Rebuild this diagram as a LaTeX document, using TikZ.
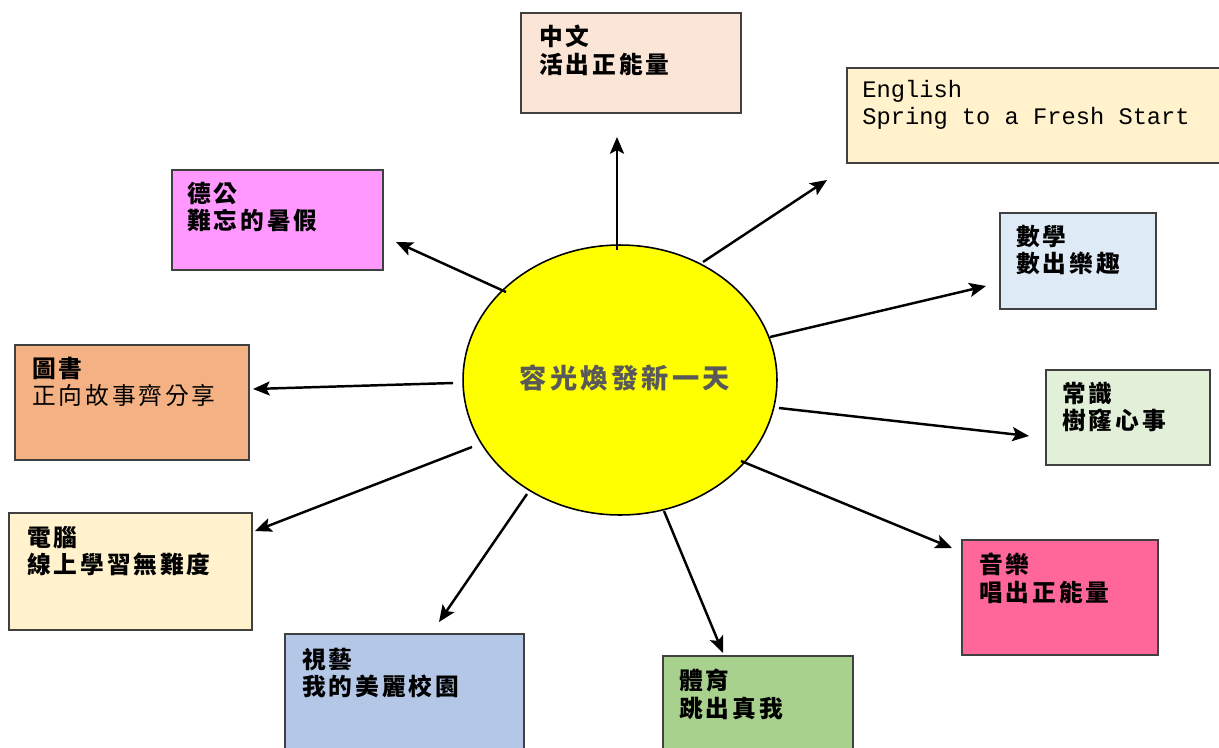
\documentclass[tikz,border=0pt]{standalone}
\usepackage{fontspec}
\setmainfont{Noto Sans CJK TC}
\newfontfamily\cjk[LetterSpace=12]{Noto Sans CJK TC}
\newfontfamily\en{Liberation Mono}
\usetikzlibrary{arrows.meta,shapes.geometric}
\definecolor{czw}{HTML}{FBE5D6}
\definecolor{cen}{HTML}{FFF2CC}
\definecolor{cdg}{HTML}{FF99FF}
\definecolor{csx}{HTML}{DEEBF7}
\definecolor{cts}{HTML}{F4B183}
\definecolor{ccs}{HTML}{E2F0D9}
\definecolor{cdn}{HTML}{FFF2CC}
\definecolor{cyy}{HTML}{FF6699}
\definecolor{csy}{HTML}{B4C7E7}
\definecolor{cty}{HTML}{A9D18E}
\definecolor{ctitle}{HTML}{595959}
\definecolor{cborder}{HTML}{404040}
\definecolor{cyel}{HTML}{FFFF00}
\tikzset{
  box/.style={draw=cborder, line width=0.8pt, rectangle, inner sep=0pt},
  boxtext/.style={anchor=north west, inner sep=0pt, align=left,
    font=\cjk\bfseries\fontsize{13.5}{15.5}\selectfont},
  entext/.style={anchor=north west, inner sep=0pt, align=left,
    font=\en\fontsize{13.5}{15.5}\selectfont},
  arr/.style={-{Stealth[length=9.5pt,width=8pt,inset=2pt]}, line width=1.4pt},
}
\begin{document}
\begin{tikzpicture}[x=0.02cm,y=-0.02cm]
\useasboundingbox (0,0) rectangle (1219,747);
\clip (0,0) rectangle (1219,747);
\fill[white] (0,0) rectangle (1219,747);

% centre
\node[draw=black, line width=0.9pt, fill=cyel, ellipse, minimum width=6.28cm, minimum height=5.4cm, inner sep=0pt] (c) at (620,380) {};
\node[font=\cjk\bfseries\fontsize{15.5}{17}\selectfont, text=ctitle, inner sep=0pt] (ct) at (625,378) {容光煥發新一天};

% boxes
\node[box, fill=czw, minimum width=4.4cm, minimum height=2.0cm] (zw) at (631,63) {};
\node[boxtext] (zwt) at (539,25) {中文\\活出正能量};

\node[box, fill=cen, minimum width=7.56cm, minimum height=1.9cm] (en) at (1036,115.5) {};
\node[entext] (ent) at (862,80) {English\\Spring to a Fresh Start};

\node[box, fill=cdg, minimum width=4.22cm, minimum height=2.0cm] (dg) at (277.5,220) {};
\node[boxtext] (dgt) at (187,182) {德公\\難忘的暑假};

\node[box, fill=csx, minimum width=3.12cm, minimum height=1.92cm] (sx) at (1078,261) {};
\node[boxtext] (sxt) at (1016,225) {數學\\數出樂趣};

\node[box, fill=cts, minimum width=4.68cm, minimum height=2.3cm] (ts) at (132,402.5) {};
\node[boxtext] (tst) at (32,357) {圖書\\\mdseries 正向故事齊分享};

\node[box, fill=ccs, minimum width=3.28cm, minimum height=1.9cm] (cs) at (1128,417.5) {};
\node[boxtext] (cst) at (1062,382) {常識\\樹窿心事};

\node[box, fill=cdn, minimum width=4.86cm, minimum height=2.34cm] (dn) at (130.5,571.5) {};
\node[boxtext] (dnt) at (27,526) {電腦\\線上學習無難度};

\node[box, fill=cyy, minimum width=3.92cm, minimum height=2.3cm] (yy) at (1060,597.5) {};
\node[boxtext] (yyt) at (979,553) {音樂\\唱出正能量};

\node[box, fill=csy, minimum width=4.78cm, minimum height=2.52cm] (sy) at (404.5,697) {};
\node[boxtext] (syt) at (302,648) {視藝\\我的美麗校園};

\node[box, fill=cty, minimum width=3.8cm, minimum height=2.08cm] (ty) at (758,708) {};
\node[boxtext] (tyt) at (679,669) {體育\\跳出真我};

% connector ends
\coordinate (s1) at (617,250);  \coordinate (e1) at (617,137);
\coordinate (s2) at (703,262);  \coordinate (e2) at (827,180);
\coordinate (s3) at (506,292);  \coordinate (e3) at (396,242);
\coordinate (s4) at (770,337);  \coordinate (e4) at (986,286);
\coordinate (s5) at (453,383);  \coordinate (e5) at (253,389);
\coordinate (s6) at (779,408);  \coordinate (e6) at (1029,436);
\coordinate (s7) at (472,447);  \coordinate (e7) at (255,531);
\coordinate (s8) at (741,461);  \coordinate (e8) at (952,548);
\coordinate (s9) at (527,494);  \coordinate (e9) at (439,622);
\coordinate (s10) at (664,511); \coordinate (e10) at (723,653);

\foreach \i in {1,...,10} { \draw[arr] (s\i) -- (e\i); }
\end{tikzpicture}
\end{document}
